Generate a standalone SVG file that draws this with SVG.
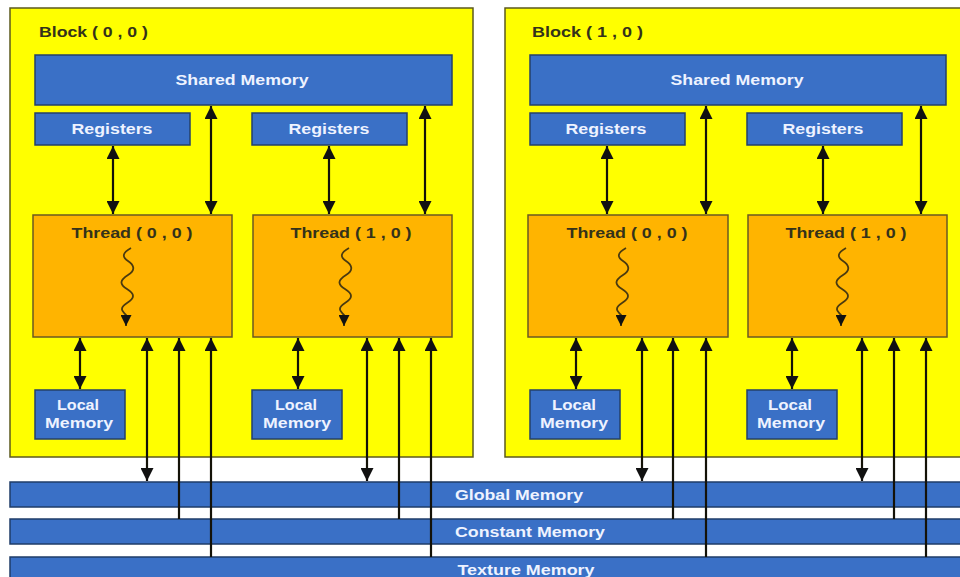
<svg xmlns="http://www.w3.org/2000/svg" width="960" height="577" viewBox="0 0 960 577">
  <style>
    text { font-family: "Liberation Sans", Arial, sans-serif; font-weight: bold; font-size: 14.5px; }
    .block { fill: #ffff00; stroke: #5c5a1e; stroke-width: 1.5; }
    .blue { fill: #3a70c6; stroke: #24406a; stroke-width: 1.5; }
    .bar { fill: #3a70c6; stroke: #1f3c68; stroke-width: 1.5; }
    .thread { fill: #ffb400; stroke: #6b5a22; stroke-width: 1.5; }
    .lt { fill: #eef3ff; text-anchor: middle; }
    .dk { fill: #34321a; }
    .dkc { fill: #34321a; text-anchor: middle; }
    .conn { stroke: #141208; stroke-width: 2.2; fill: none; }
    .both { marker-start: url(#head); marker-end: url(#head); }
    .up { marker-start: url(#head); }
    .wave { stroke: #4a3a10; stroke-width: 1.8; fill: none; marker-end: url(#small); }
  </style>
  <defs>
    <marker id="head" viewBox="0 0 13 13" refX="13" refY="6.5" markerWidth="13" markerHeight="13" markerUnits="userSpaceOnUse" orient="auto-start-reverse">
      <path d="M0,0 L13,6.5 L0,13 Z" fill="#111"/>
    </marker>
    <marker id="small" viewBox="0 0 10 10" refX="10" refY="5" markerWidth="11" markerHeight="11" markerUnits="userSpaceOnUse" orient="auto">
      <path d="M0,0 L10,5 L0,10 Z" fill="#111"/>
    </marker>
    <!-- wavy thread-of-execution mark -->
    <path id="squiggle" d="M3,0 c-9,5 -9,9 -3,13 s8,9 0,14 s-9,9 -1,14 s8,9 0,14 s-5,8 -1,12 l0,11"/>
  </defs>

  <rect width="960" height="577" fill="#ffffff"/>

  <!-- Block (0,0) -->
  <g id="block-0-0">
    <rect class="block" x="10" y="8" width="463" height="449"/>
    <text class="dk" x="39" y="37" textLength="109" lengthAdjust="spacingAndGlyphs">Block ( 0 , 0 )</text>
  </g>
  <g id="b00-shared">
    <rect class="blue" x="35" y="55" width="417" height="50"/>
    <text class="lt" x="242" y="85" textLength="133" lengthAdjust="spacingAndGlyphs">Shared Memory</text>
  </g>
  <g id="b00-reg0">
    <rect class="blue" x="35" y="113" width="155" height="32"/>
    <text class="lt" x="112" y="134" textLength="81" lengthAdjust="spacingAndGlyphs">Registers</text>
  </g>
  <g id="b00-reg1">
    <rect class="blue" x="252" y="113" width="155" height="32"/>
    <text class="lt" x="329" y="134" textLength="81" lengthAdjust="spacingAndGlyphs">Registers</text>
  </g>
  <g id="b00-thread0">
    <rect class="thread" x="33" y="215" width="199" height="122"/>
    <text class="dkc" x="132" y="238" textLength="121" lengthAdjust="spacingAndGlyphs">Thread ( 0 , 0 )</text>
    <use href="#squiggle" x="128" y="248" class="wave"/>
  </g>
  <g id="b00-thread1">
    <rect class="thread" x="253" y="215" width="199" height="122"/>
    <text class="dkc" x="351" y="238" textLength="121" lengthAdjust="spacingAndGlyphs">Thread ( 1 , 0 )</text>
    <use href="#squiggle" x="346" y="248" class="wave"/>
  </g>
  <g id="b00-local0">
    <rect class="blue" x="35" y="390" width="90" height="49"/>
    <text class="lt" x="78" y="410" textLength="42" lengthAdjust="spacingAndGlyphs">Local</text>
    <text class="lt" x="79" y="428" textLength="68" lengthAdjust="spacingAndGlyphs">Memory</text>
  </g>
  <g id="b00-local1">
    <rect class="blue" x="252" y="390" width="90" height="49"/>
    <text class="lt" x="296" y="410" textLength="42" lengthAdjust="spacingAndGlyphs">Local</text>
    <text class="lt" x="297" y="428" textLength="68" lengthAdjust="spacingAndGlyphs">Memory</text>
  </g>

  <!-- Block (1,0) -->
  <g id="block-1-0">
    <rect class="block" x="505" y="8" width="470" height="449"/>
    <text class="dk" x="532" y="37" textLength="111" lengthAdjust="spacingAndGlyphs">Block ( 1 , 0 )</text>
  </g>
  <g id="b10-shared">
    <rect class="blue" x="530" y="55" width="416" height="50"/>
    <text class="lt" x="737" y="85" textLength="133" lengthAdjust="spacingAndGlyphs">Shared Memory</text>
  </g>
  <g id="b10-reg0">
    <rect class="blue" x="530" y="113" width="155" height="32"/>
    <text class="lt" x="606" y="134" textLength="81" lengthAdjust="spacingAndGlyphs">Registers</text>
  </g>
  <g id="b10-reg1">
    <rect class="blue" x="747" y="113" width="155" height="32"/>
    <text class="lt" x="823" y="134" textLength="81" lengthAdjust="spacingAndGlyphs">Registers</text>
  </g>
  <g id="b10-thread0">
    <rect class="thread" x="528" y="215" width="200" height="122"/>
    <text class="dkc" x="627" y="238" textLength="121" lengthAdjust="spacingAndGlyphs">Thread ( 0 , 0 )</text>
    <use href="#squiggle" x="623" y="248" class="wave"/>
  </g>
  <g id="b10-thread1">
    <rect class="thread" x="748" y="215" width="199" height="122"/>
    <text class="dkc" x="846" y="238" textLength="121" lengthAdjust="spacingAndGlyphs">Thread ( 1 , 0 )</text>
    <use href="#squiggle" x="843" y="248" class="wave"/>
  </g>
  <g id="b10-local0">
    <rect class="blue" x="530" y="390" width="90" height="49"/>
    <text class="lt" x="574" y="410" textLength="44" lengthAdjust="spacingAndGlyphs">Local</text>
    <text class="lt" x="574" y="428" textLength="68" lengthAdjust="spacingAndGlyphs">Memory</text>
  </g>
  <g id="b10-local1">
    <rect class="blue" x="747" y="390" width="90" height="49"/>
    <text class="lt" x="790" y="410" textLength="44" lengthAdjust="spacingAndGlyphs">Local</text>
    <text class="lt" x="791" y="428" textLength="68" lengthAdjust="spacingAndGlyphs">Memory</text>
  </g>

  <!-- Device-wide memories -->
  <g id="global-memory">
    <rect class="bar" x="10" y="482" width="960" height="25"/>
    <text class="lt" x="519" y="500" textLength="128" lengthAdjust="spacingAndGlyphs">Global Memory</text>
  </g>
  <g id="constant-memory">
    <rect class="bar" x="10" y="519" width="960" height="25"/>
    <text class="lt" x="530" y="537" textLength="150" lengthAdjust="spacingAndGlyphs">Constant Memory</text>
  </g>
  <g id="texture-memory">
    <rect class="bar" x="10" y="557" width="960" height="24"/>
    <text class="lt" x="526" y="575" textLength="137" lengthAdjust="spacingAndGlyphs">Texture Memory</text>
  </g>

  <!-- Connectors -->
  <g id="connectors">
    <!-- block (0,0) -->
    <line class="conn both" x1="113" y1="146" x2="113" y2="214"/>
    <line class="conn both" x1="211" y1="106" x2="211" y2="214"/>
    <line class="conn both" x1="329" y1="146" x2="329" y2="214"/>
    <line class="conn both" x1="425" y1="106" x2="425" y2="214"/>
    <line class="conn both" x1="80" y1="338" x2="80" y2="389"/>
    <line class="conn both" x1="298" y1="338" x2="298" y2="389"/>
    <line class="conn both" x1="147" y1="338" x2="147" y2="481"/>
    <line class="conn up" x1="179" y1="338" x2="179" y2="519"/>
    <line class="conn up" x1="211" y1="338" x2="211" y2="557"/>
    <line class="conn both" x1="367" y1="338" x2="367" y2="481"/>
    <line class="conn up" x1="399" y1="338" x2="399" y2="519"/>
    <line class="conn up" x1="431" y1="338" x2="431" y2="557"/>
    <!-- block (1,0) -->
    <line class="conn both" x1="607" y1="146" x2="607" y2="214"/>
    <line class="conn both" x1="706" y1="106" x2="706" y2="214"/>
    <line class="conn both" x1="823" y1="146" x2="823" y2="214"/>
    <line class="conn both" x1="921" y1="106" x2="921" y2="214"/>
    <line class="conn both" x1="576" y1="338" x2="576" y2="389"/>
    <line class="conn both" x1="792" y1="338" x2="792" y2="389"/>
    <line class="conn both" x1="642" y1="338" x2="642" y2="481"/>
    <line class="conn up" x1="673" y1="338" x2="673" y2="519"/>
    <line class="conn up" x1="706" y1="338" x2="706" y2="557"/>
    <line class="conn both" x1="862" y1="338" x2="862" y2="481"/>
    <line class="conn up" x1="894" y1="338" x2="894" y2="519"/>
    <line class="conn up" x1="926" y1="338" x2="926" y2="557"/>
  </g>
</svg>
